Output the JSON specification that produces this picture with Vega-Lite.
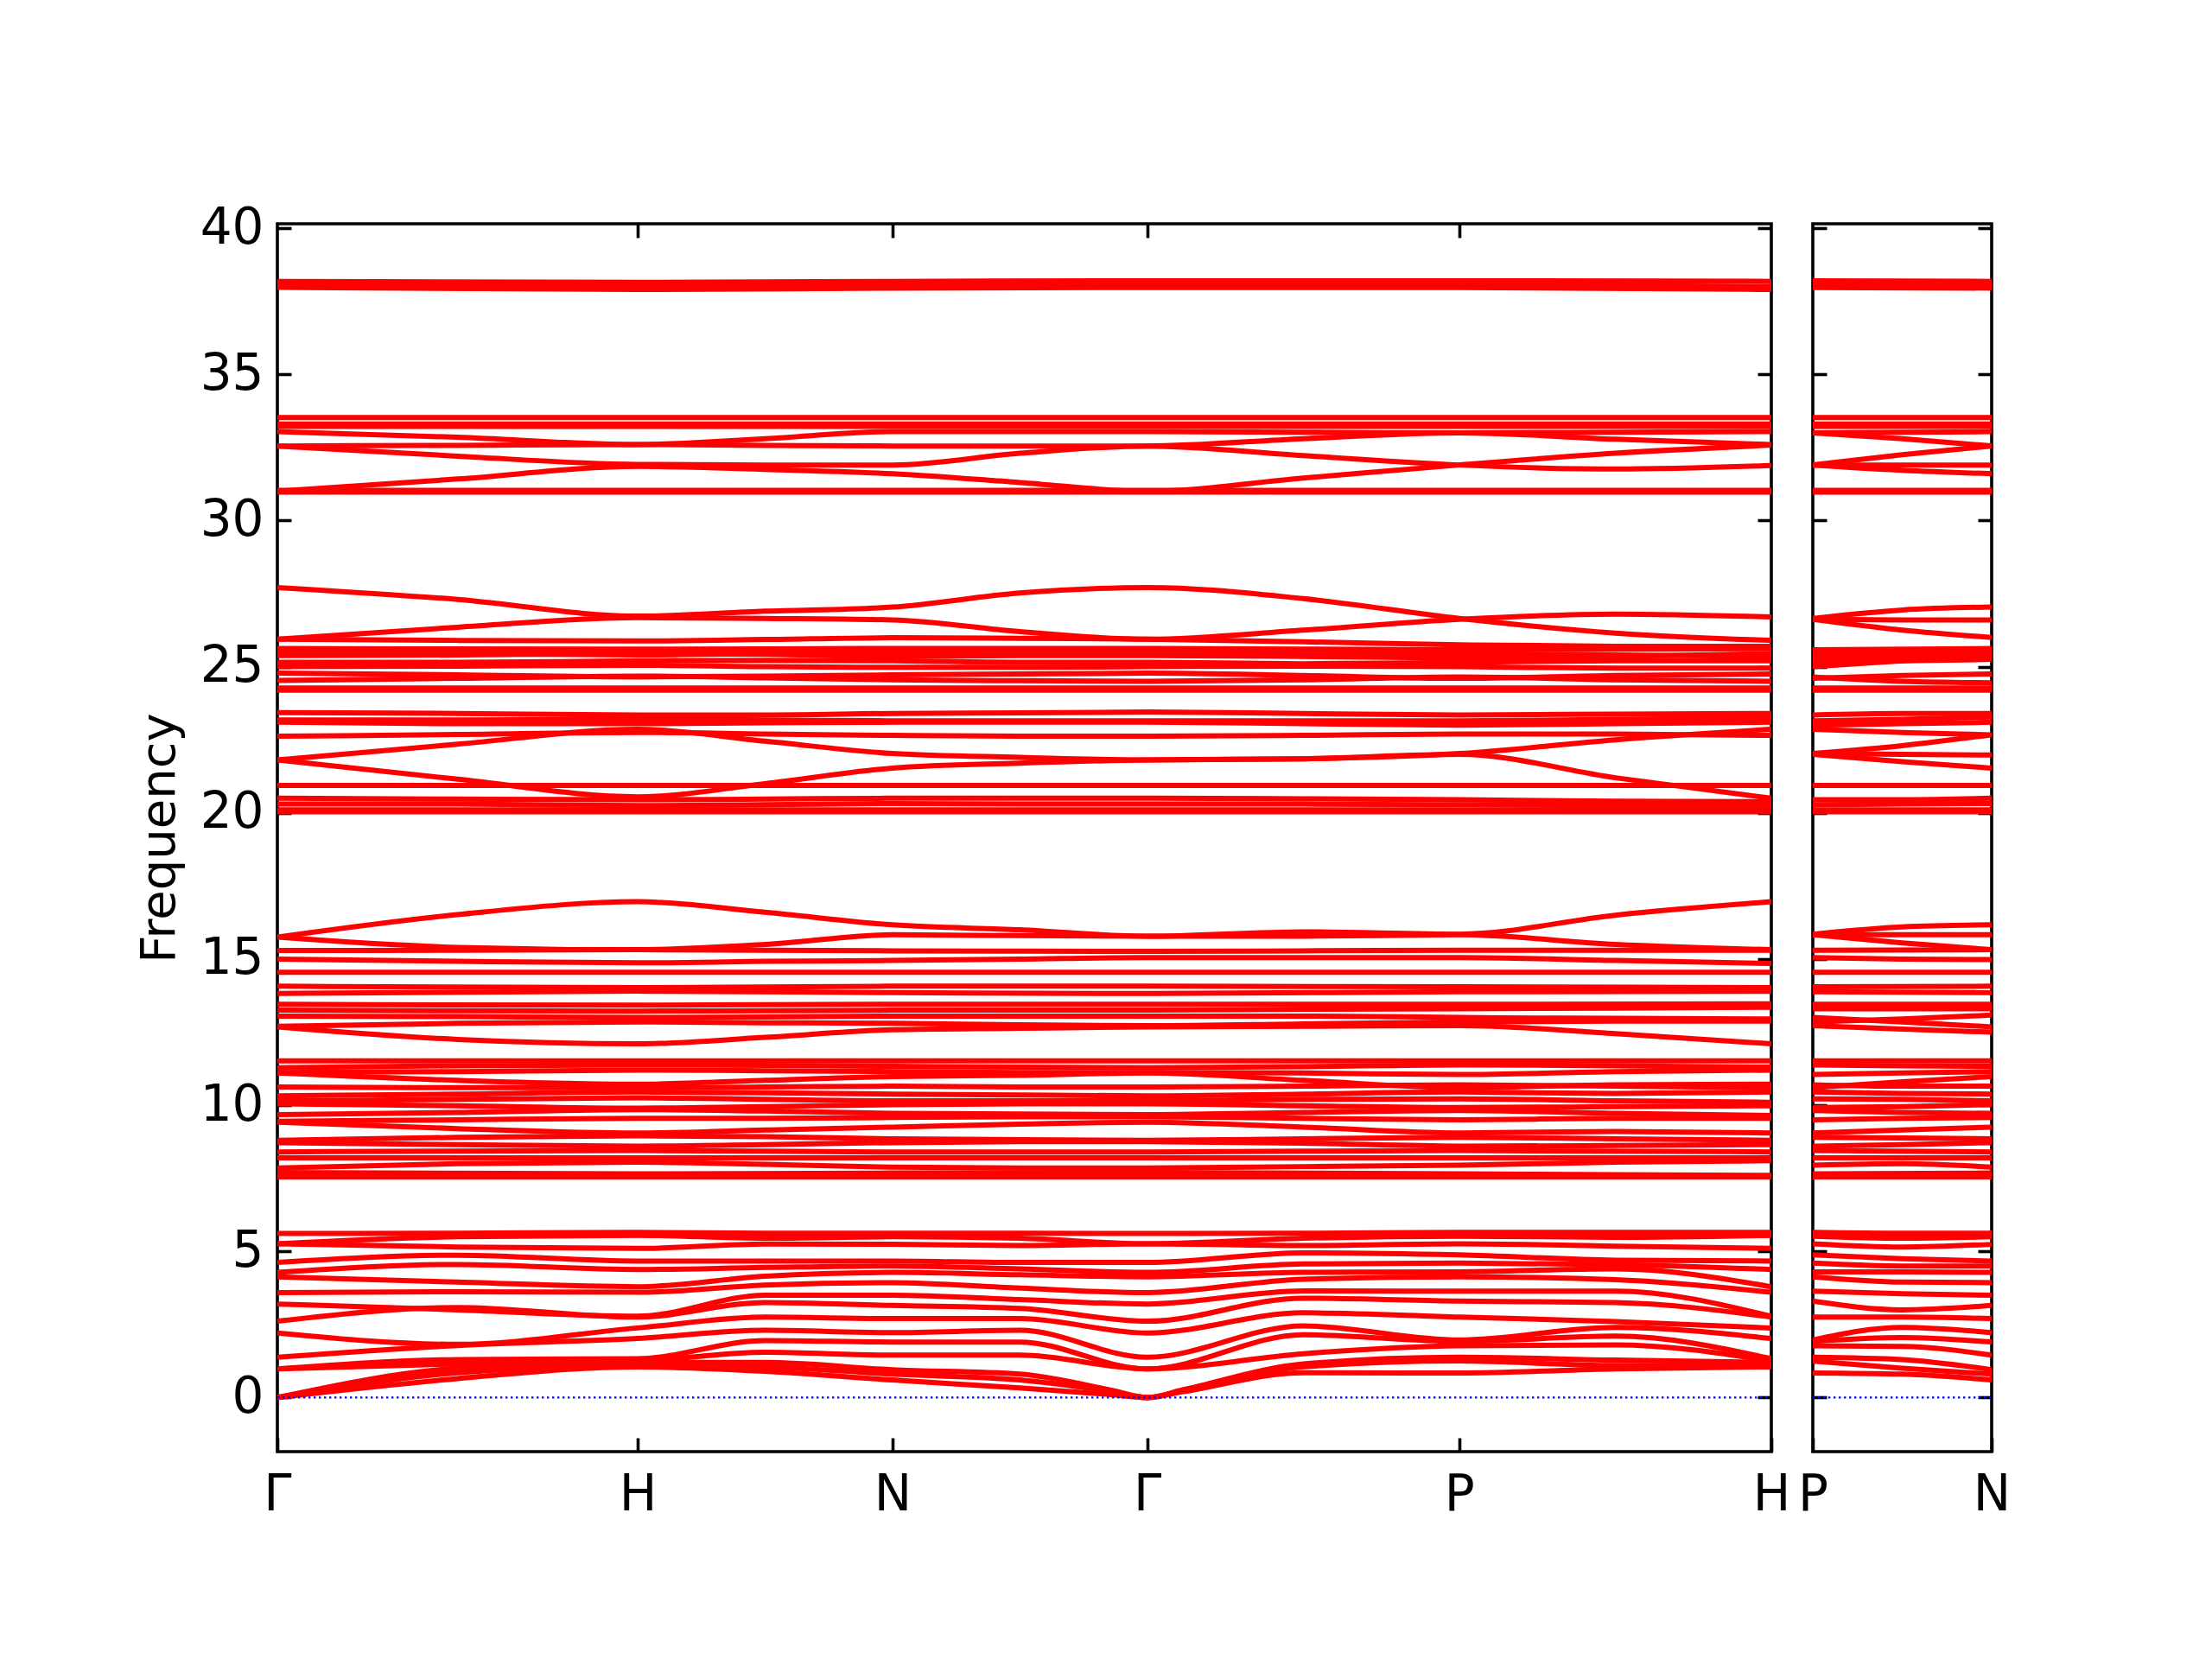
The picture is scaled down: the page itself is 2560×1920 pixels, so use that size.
{
"$schema": "https://vega.github.io/schema/vega-lite/v6.json",
"background": "white",
"padding": {"left": 154, "top": 233, "right": 10, "bottom": 10},
"config": {
 "view": {"stroke": "black", "strokeWidth": 3.6},
 "axis": {"grid": false, "domain": false, "labelFont": "DejaVu Sans", "labelFontSize": 58, "labelColor": "black", "tickColor": "black", "tickWidth": 3.6, "tickSize": -16, "labelPadding": 32, "titleFont": "DejaVu Sans", "titleFontSize": 56, "titleFontWeight": "normal", "titleColor": "black", "labelOverlap": false, "labelFlush": false}
},
"datasets": {
"zm": [{"x0": 0, "x1": 4.1463, "y": 0}],
"zs": [{"x0": 0, "x1": 0.5, "y": 0}],
"m": [
{"b":"a1","x":0,"f":38.18},{"b":"a1","x":1,"f":38.15},{"b":"a1","x":1.7071,"f":38.18},{"b":"a1","x":2.4142,"f":38.2},{"b":"a1","x":3.2802,"f":38.2},{"b":"a1","x":4.1463,"f":38.18},
{"b":"a2","x":0,"f":38.08},{"b":"a2","x":1,"f":38.0},{"b":"a2","x":1.7071,"f":38.05},{"b":"a2","x":2.4142,"f":38.07},{"b":"a2","x":3.2802,"f":38.08},{"b":"a2","x":4.1463,"f":38.0},
{"b":"a3","x":0,"f":37.98},{"b":"a3","x":1,"f":37.9},{"b":"a3","x":1.7071,"f":37.95},{"b":"a3","x":2.4142,"f":37.97},{"b":"a3","x":3.2802,"f":37.97},{"b":"a3","x":4.1463,"f":37.9},
{"b":"b1","x":0,"f":33.52},{"b":"b1","x":4.1463,"f":33.52},
{"b":"b2","x":0,"f":33.3},{"b":"b2","x":4.1463,"f":33.3},
{"b":"b3","x":0,"f":33.22},{"b":"b3","x":4.1463,"f":33.22},
{"b":"b4","x":0,"f":33.04},{"b":"b4","x":0.5,"f":32.85},{"b":"b4","x":1,"f":32.6},{"b":"b4","x":1.3536,"f":32.8},{"b":"b4","x":1.7071,"f":33.04},{"b":"b4","x":2.0607,"f":33.04},{"b":"b4","x":2.4142,"f":33.04},{"b":"b4","x":2.8472,"f":33.02},{"b":"b4","x":3.2802,"f":33.0},{"b":"b4","x":3.7133,"f":33.02},{"b":"b4","x":4.1463,"f":33.04},
{"b":"b5","x":0,"f":32.55},{"b":"b5","x":0.5,"f":32.57},{"b":"b5","x":1,"f":32.6},{"b":"b5","x":1.3536,"f":32.57},{"b":"b5","x":1.7071,"f":32.55},{"b":"b5","x":2.0607,"f":32.55},{"b":"b5","x":2.4142,"f":32.55},{"b":"b5","x":2.8472,"f":32.8},{"b":"b5","x":3.2802,"f":33.0},{"b":"b5","x":3.7133,"f":32.78},{"b":"b5","x":4.1463,"f":32.6},
{"b":"b6","x":0,"f":32.55},{"b":"b6","x":0.5,"f":32.2},{"b":"b6","x":1,"f":31.92},{"b":"b6","x":1.3536,"f":31.9},{"b":"b6","x":1.7071,"f":31.9},{"b":"b6","x":2.0607,"f":32.3},{"b":"b6","x":2.4142,"f":32.55},{"b":"b6","x":2.8472,"f":32.22},{"b":"b6","x":3.2802,"f":31.9},{"b":"b6","x":3.7133,"f":31.76},{"b":"b6","x":4.1463,"f":31.88},
{"b":"b7","x":0,"f":31.0},{"b":"b7","x":0.5,"f":31.42},{"b":"b7","x":1,"f":31.85},{"b":"b7","x":1.3536,"f":31.75},{"b":"b7","x":1.7071,"f":31.6},{"b":"b7","x":2.0607,"f":31.3},{"b":"b7","x":2.4142,"f":31.0},{"b":"b7","x":2.8472,"f":31.45},{"b":"b7","x":3.2802,"f":31.9},{"b":"b7","x":3.7133,"f":32.3},{"b":"b7","x":4.1463,"f":32.58},
{"b":"b8","x":0,"f":31.03},{"b":"b8","x":4.1463,"f":31.03},
{"b":"b9","x":0,"f":30.97},{"b":"b9","x":4.1463,"f":30.97},
{"b":"c1","x":0,"f":27.71},{"b":"c1","x":0.5,"f":27.3},{"b":"c1","x":1,"f":26.73},{"b":"c1","x":1.3536,"f":26.9},{"b":"c1","x":1.7071,"f":27.04},{"b":"c1","x":2.0607,"f":27.52},{"b":"c1","x":2.4142,"f":27.71},{"b":"c1","x":2.8472,"f":27.33},{"b":"c1","x":3.2802,"f":26.65},{"b":"c1","x":3.7133,"f":26.15},{"b":"c1","x":4.1463,"f":25.9},
{"b":"c2","x":0,"f":25.94},{"b":"c2","x":0.5,"f":26.35},{"b":"c2","x":1,"f":26.68},{"b":"c2","x":1.3536,"f":26.65},{"b":"c2","x":1.7071,"f":26.6},{"b":"c2","x":2.0607,"f":26.2},{"b":"c2","x":2.4142,"f":25.94},{"b":"c2","x":2.8472,"f":26.25},{"b":"c2","x":3.2802,"f":26.62},{"b":"c2","x":3.7133,"f":26.8},{"b":"c2","x":4.1463,"f":26.7},
{"b":"c3","x":0,"f":25.94},{"b":"c3","x":0.5,"f":25.9},{"b":"c3","x":1,"f":25.88},{"b":"c3","x":1.3536,"f":25.93},{"b":"c3","x":1.7071,"f":25.99},{"b":"c3","x":2.0607,"f":25.97},{"b":"c3","x":2.4142,"f":25.94},{"b":"c3","x":2.8472,"f":25.85},{"b":"c3","x":3.2802,"f":25.75},{"b":"c3","x":3.7133,"f":25.7},{"b":"c3","x":4.1463,"f":25.7},
{"b":"c4","x":0,"f":25.62},{"b":"c4","x":1,"f":25.6},{"b":"c4","x":1.7071,"f":25.62},{"b":"c4","x":2.4142,"f":25.62},{"b":"c4","x":3.2802,"f":25.58},{"b":"c4","x":4.1463,"f":25.62},
{"b":"c5","x":0,"f":25.5},{"b":"c5","x":0.5,"f":25.45},{"b":"c5","x":1,"f":25.4},{"b":"c5","x":1.3536,"f":25.45},{"b":"c5","x":1.7071,"f":25.5},{"b":"c5","x":2.0607,"f":25.5},{"b":"c5","x":2.4142,"f":25.5},{"b":"c5","x":2.8472,"f":25.48},{"b":"c5","x":3.2802,"f":25.45},{"b":"c5","x":3.7133,"f":25.4},{"b":"c5","x":4.1463,"f":25.35},
{"b":"c6","x":0,"f":25.38},{"b":"c6","x":0.5,"f":25.4},{"b":"c6","x":1,"f":25.45},{"b":"c6","x":1.3536,"f":25.42},{"b":"c6","x":1.7071,"f":25.35},{"b":"c6","x":2.0607,"f":25.38},{"b":"c6","x":2.4142,"f":25.38},{"b":"c6","x":2.8472,"f":25.35},{"b":"c6","x":3.2802,"f":25.3},{"b":"c6","x":3.7133,"f":25.35},{"b":"c6","x":4.1463,"f":25.45},
{"b":"c7","x":0,"f":25.15},{"b":"c7","x":0.5,"f":25.15},{"b":"c7","x":1,"f":25.2},{"b":"c7","x":1.3536,"f":25.22},{"b":"c7","x":1.7071,"f":25.2},{"b":"c7","x":2.0607,"f":25.15},{"b":"c7","x":2.4142,"f":25.15},{"b":"c7","x":2.8472,"f":25.1},{"b":"c7","x":3.2802,"f":25.15},{"b":"c7","x":3.7133,"f":25.2},{"b":"c7","x":4.1463,"f":25.2},
{"b":"c8","x":0,"f":25.0},{"b":"c8","x":0.5,"f":25.02},{"b":"c8","x":1,"f":25.05},{"b":"c8","x":1.3536,"f":25.0},{"b":"c8","x":1.7071,"f":24.98},{"b":"c8","x":2.0607,"f":24.98},{"b":"c8","x":2.4142,"f":25.0},{"b":"c8","x":2.8472,"f":25.02},{"b":"c8","x":3.2802,"f":25.0},{"b":"c8","x":3.7133,"f":24.95},{"b":"c8","x":4.1463,"f":24.95},
{"b":"c9","x":0,"f":24.78},{"b":"c9","x":0.5,"f":24.72},{"b":"c9","x":1,"f":24.65},{"b":"c9","x":1.3536,"f":24.68},{"b":"c9","x":1.7071,"f":24.72},{"b":"c9","x":2.0607,"f":24.75},{"b":"c9","x":2.4142,"f":24.78},{"b":"c9","x":2.8472,"f":24.7},{"b":"c9","x":3.2802,"f":24.6},{"b":"c9","x":3.7133,"f":24.7},{"b":"c9","x":4.1463,"f":24.75},
{"b":"c10","x":0,"f":24.53},{"b":"c10","x":0.5,"f":24.6},{"b":"c10","x":1,"f":24.68},{"b":"c10","x":1.3536,"f":24.62},{"b":"c10","x":1.7071,"f":24.55},{"b":"c10","x":2.0607,"f":24.52},{"b":"c10","x":2.4142,"f":24.5},{"b":"c10","x":2.8472,"f":24.55},{"b":"c10","x":3.2802,"f":24.65},{"b":"c10","x":3.7133,"f":24.55},{"b":"c10","x":4.1463,"f":24.5},
{"b":"c11","x":0,"f":24.27},{"b":"c11","x":4.1463,"f":24.27},
{"b":"c12","x":0,"f":24.2},{"b":"c12","x":4.1463,"f":24.2},
{"b":"c13","x":0,"f":23.43},{"b":"c13","x":0.5,"f":23.4},{"b":"c13","x":1,"f":23.35},{"b":"c13","x":1.3536,"f":23.35},{"b":"c13","x":1.7071,"f":23.4},{"b":"c13","x":2.0607,"f":23.42},{"b":"c13","x":2.4142,"f":23.45},{"b":"c13","x":2.8472,"f":23.4},{"b":"c13","x":3.2802,"f":23.35},{"b":"c13","x":3.7133,"f":23.38},{"b":"c13","x":4.1463,"f":23.4},
{"b":"c14","x":0,"f":23.18},{"b":"c14","x":0.5,"f":23.18},{"b":"c14","x":1,"f":23.2},{"b":"c14","x":1.3536,"f":23.18},{"b":"c14","x":1.7071,"f":23.15},{"b":"c14","x":2.0607,"f":23.15},{"b":"c14","x":2.4142,"f":23.15},{"b":"c14","x":2.8472,"f":23.15},{"b":"c14","x":3.2802,"f":23.15},{"b":"c14","x":3.7133,"f":23.2},{"b":"c14","x":4.1463,"f":23.25},
{"b":"c15","x":0,"f":23.1},{"b":"c15","x":0.5,"f":23.05},{"b":"c15","x":1,"f":23.05},{"b":"c15","x":1.3536,"f":23.08},{"b":"c15","x":1.7071,"f":23.1},{"b":"c15","x":2.0607,"f":23.1},{"b":"c15","x":2.4142,"f":23.1},{"b":"c15","x":2.8472,"f":23.05},{"b":"c15","x":3.2802,"f":23.0},{"b":"c15","x":3.7133,"f":23.05},{"b":"c15","x":4.1463,"f":23.1},
{"b":"c16","x":0,"f":22.62},{"b":"c16","x":0.5,"f":22.68},{"b":"c16","x":1,"f":22.75},{"b":"c16","x":1.3536,"f":22.7},{"b":"c16","x":1.7071,"f":22.65},{"b":"c16","x":2.0607,"f":22.62},{"b":"c16","x":2.4142,"f":22.62},{"b":"c16","x":2.8472,"f":22.65},{"b":"c16","x":3.2802,"f":22.7},{"b":"c16","x":3.7133,"f":22.7},{"b":"c16","x":4.1463,"f":22.65},
{"b":"c17","x":0,"f":21.81},{"b":"c17","x":0.5,"f":22.35},{"b":"c17","x":1,"f":22.86},{"b":"c17","x":1.3536,"f":22.45},{"b":"c17","x":1.7071,"f":22.03},{"b":"c17","x":2.0607,"f":21.9},{"b":"c17","x":2.4142,"f":21.81},{"b":"c17","x":2.8472,"f":21.85},{"b":"c17","x":3.2802,"f":22.03},{"b":"c17","x":3.7133,"f":22.5},{"b":"c17","x":4.1463,"f":22.86},
{"b":"c18","x":0,"f":21.81},{"b":"c18","x":0.5,"f":21.15},{"b":"c18","x":1,"f":20.55},{"b":"c18","x":1.3536,"f":21.0},{"b":"c18","x":1.7071,"f":21.53},{"b":"c18","x":2.0607,"f":21.7},{"b":"c18","x":2.4142,"f":21.81},{"b":"c18","x":2.8472,"f":21.85},{"b":"c18","x":3.2802,"f":22.0},{"b":"c18","x":3.7133,"f":21.2},{"b":"c18","x":4.1463,"f":20.5},
{"b":"c19","x":0,"f":20.94},{"b":"c19","x":4.1463,"f":20.94},
{"b":"c20","x":0,"f":20.5},{"b":"c20","x":0.5,"f":20.47},{"b":"c20","x":1,"f":20.45},{"b":"c20","x":1.3536,"f":20.47},{"b":"c20","x":1.7071,"f":20.5},{"b":"c20","x":2.0607,"f":20.5},{"b":"c20","x":2.4142,"f":20.5},{"b":"c20","x":2.8472,"f":20.48},{"b":"c20","x":3.2802,"f":20.45},{"b":"c20","x":3.7133,"f":20.4},{"b":"c20","x":4.1463,"f":20.38},
{"b":"c21","x":0,"f":20.3},{"b":"c21","x":0.5,"f":20.3},{"b":"c21","x":1,"f":20.25},{"b":"c21","x":1.3536,"f":20.28},{"b":"c21","x":1.7071,"f":20.32},{"b":"c21","x":2.0607,"f":20.3},{"b":"c21","x":2.4142,"f":20.3},{"b":"c21","x":2.8472,"f":20.3},{"b":"c21","x":3.2802,"f":20.28},{"b":"c21","x":3.7133,"f":20.25},{"b":"c21","x":4.1463,"f":20.25},
{"b":"c22","x":0,"f":20.1},{"b":"c22","x":4.1463,"f":20.1},
{"b":"c23","x":0,"f":20.04},{"b":"c23","x":4.1463,"f":20.04},
{"b":"d1","x":0,"f":15.75},{"b":"d1","x":0.5,"f":16.52},{"b":"d1","x":1,"f":16.96},{"b":"d1","x":1.3536,"f":16.6},{"b":"d1","x":1.7071,"f":16.17},{"b":"d1","x":2.0607,"f":16.0},{"b":"d1","x":2.4142,"f":15.78},{"b":"d1","x":2.8472,"f":15.93},{"b":"d1","x":3.2802,"f":15.85},{"b":"d1","x":3.7133,"f":16.5},{"b":"d1","x":4.1463,"f":16.96},
{"b":"d2","x":0,"f":15.75},{"b":"d2","x":0.5,"f":15.4},{"b":"d2","x":1,"f":15.32},{"b":"d2","x":1.3536,"f":15.5},{"b":"d2","x":1.7071,"f":15.83},{"b":"d2","x":2.0607,"f":15.8},{"b":"d2","x":2.4142,"f":15.78},{"b":"d2","x":2.8472,"f":15.78},{"b":"d2","x":3.2802,"f":15.83},{"b":"d2","x":3.7133,"f":15.5},{"b":"d2","x":4.1463,"f":15.32},
{"b":"d3","x":0,"f":15.29},{"b":"d3","x":0.5,"f":15.3},{"b":"d3","x":1,"f":15.32},{"b":"d3","x":1.3536,"f":15.3},{"b":"d3","x":1.7071,"f":15.28},{"b":"d3","x":2.0607,"f":15.27},{"b":"d3","x":2.4142,"f":15.26},{"b":"d3","x":2.8472,"f":15.28},{"b":"d3","x":3.2802,"f":15.3},{"b":"d3","x":3.7133,"f":15.3},{"b":"d3","x":4.1463,"f":15.3},
{"b":"d4","x":0,"f":15.0},{"b":"d4","x":0.5,"f":14.92},{"b":"d4","x":1,"f":14.87},{"b":"d4","x":1.3536,"f":14.92},{"b":"d4","x":1.7071,"f":14.95},{"b":"d4","x":2.0607,"f":15.0},{"b":"d4","x":2.4142,"f":15.05},{"b":"d4","x":2.8472,"f":15.05},{"b":"d4","x":3.2802,"f":15.05},{"b":"d4","x":3.7133,"f":14.95},{"b":"d4","x":4.1463,"f":14.85},
{"b":"d5","x":0,"f":14.55},{"b":"d5","x":4.1463,"f":14.55},
{"b":"d6","x":0,"f":14.07},{"b":"d6","x":1,"f":14.02},{"b":"d6","x":1.7071,"f":14.07},{"b":"d6","x":2.4142,"f":14.07},{"b":"d6","x":3.2802,"f":14.05},{"b":"d6","x":4.1463,"f":14.02},
{"b":"d7","x":0,"f":13.82},{"b":"d7","x":1,"f":13.9},{"b":"d7","x":1.7071,"f":13.85},{"b":"d7","x":2.4142,"f":13.82},{"b":"d7","x":3.2802,"f":13.88},{"b":"d7","x":4.1463,"f":13.9},
{"b":"d8","x":0,"f":13.45},{"b":"d8","x":1,"f":13.42},{"b":"d8","x":1.7071,"f":13.45},{"b":"d8","x":2.4142,"f":13.45},{"b":"d8","x":3.2802,"f":13.45},{"b":"d8","x":4.1463,"f":13.47},
{"b":"d9","x":0,"f":13.25},{"b":"d9","x":0.5,"f":13.23},{"b":"d9","x":1,"f":13.22},{"b":"d9","x":1.3536,"f":13.23},{"b":"d9","x":1.7071,"f":13.25},{"b":"d9","x":2.0607,"f":13.25},{"b":"d9","x":2.4142,"f":13.25},{"b":"d9","x":2.8472,"f":13.28},{"b":"d9","x":3.2802,"f":13.3},{"b":"d9","x":3.7133,"f":13.32},{"b":"d9","x":4.1463,"f":13.35},
{"b":"d10","x":0,"f":13.05},{"b":"d10","x":0.5,"f":13.03},{"b":"d10","x":1,"f":13.0},{"b":"d10","x":1.3536,"f":13.02},{"b":"d10","x":1.7071,"f":13.05},{"b":"d10","x":2.0607,"f":13.05},{"b":"d10","x":2.4142,"f":13.05},{"b":"d10","x":2.8472,"f":13.05},{"b":"d10","x":3.2802,"f":13.0},{"b":"d10","x":3.7133,"f":12.97},{"b":"d10","x":4.1463,"f":12.95},
{"b":"d11","x":0,"f":12.7},{"b":"d11","x":0.5,"f":12.8},{"b":"d11","x":1,"f":12.85},{"b":"d11","x":1.3536,"f":12.82},{"b":"d11","x":1.7071,"f":12.8},{"b":"d11","x":2.0607,"f":12.75},{"b":"d11","x":2.4142,"f":12.72},{"b":"d11","x":2.8472,"f":12.78},{"b":"d11","x":3.2802,"f":12.85},{"b":"d11","x":3.7133,"f":12.88},{"b":"d11","x":4.1463,"f":12.88},
{"b":"d12","x":0,"f":12.68},{"b":"d12","x":0.5,"f":12.25},{"b":"d12","x":1,"f":12.1},{"b":"d12","x":1.3536,"f":12.32},{"b":"d12","x":1.7071,"f":12.58},{"b":"d12","x":2.0607,"f":12.63},{"b":"d12","x":2.4142,"f":12.68},{"b":"d12","x":2.8472,"f":12.7},{"b":"d12","x":3.2802,"f":12.72},{"b":"d12","x":3.7133,"f":12.45},{"b":"d12","x":4.1463,"f":12.1},
{"b":"e1","x":0,"f":11.52},{"b":"e1","x":4.1463,"f":11.52},
{"b":"e2","x":0,"f":11.28},{"b":"e2","x":0.5,"f":11.35},{"b":"e2","x":1,"f":11.38},{"b":"e2","x":1.3536,"f":11.36},{"b":"e2","x":1.7071,"f":11.33},{"b":"e2","x":2.0607,"f":11.3},{"b":"e2","x":2.4142,"f":11.28},{"b":"e2","x":2.8472,"f":11.32},{"b":"e2","x":3.2802,"f":11.38},{"b":"e2","x":3.7133,"f":11.35},{"b":"e2","x":4.1463,"f":11.3},
{"b":"e3","x":0,"f":11.12},{"b":"e3","x":0.5,"f":11.15},{"b":"e3","x":1,"f":11.2},{"b":"e3","x":1.3536,"f":11.18},{"b":"e3","x":1.7071,"f":11.15},{"b":"e3","x":2.0607,"f":11.12},{"b":"e3","x":2.4142,"f":11.12},{"b":"e3","x":2.8472,"f":11.1},{"b":"e3","x":3.2802,"f":11.05},{"b":"e3","x":3.7133,"f":11.15},{"b":"e3","x":4.1463,"f":11.2},
{"b":"e4","x":0,"f":11.1},{"b":"e4","x":0.5,"f":10.85},{"b":"e4","x":1,"f":10.72},{"b":"e4","x":1.3536,"f":10.85},{"b":"e4","x":1.7071,"f":10.98},{"b":"e4","x":2.0607,"f":11.02},{"b":"e4","x":2.4142,"f":11.1},{"b":"e4","x":2.8472,"f":10.85},{"b":"e4","x":3.2802,"f":10.6},{"b":"e4","x":3.7133,"f":10.7},{"b":"e4","x":4.1463,"f":10.72},
{"b":"e5","x":0,"f":10.62},{"b":"e5","x":0.5,"f":10.6},{"b":"e5","x":1,"f":10.6},{"b":"e5","x":1.3536,"f":10.62},{"b":"e5","x":1.7071,"f":10.65},{"b":"e5","x":2.0607,"f":10.62},{"b":"e5","x":2.4142,"f":10.62},{"b":"e5","x":2.8472,"f":10.65},{"b":"e5","x":3.2802,"f":10.7},{"b":"e5","x":3.7133,"f":10.65},{"b":"e5","x":4.1463,"f":10.6},
{"b":"e6","x":0,"f":10.32},{"b":"e6","x":0.5,"f":10.38},{"b":"e6","x":1,"f":10.45},{"b":"e6","x":1.3536,"f":10.42},{"b":"e6","x":1.7071,"f":10.38},{"b":"e6","x":2.0607,"f":10.35},{"b":"e6","x":2.4142,"f":10.32},{"b":"e6","x":2.8472,"f":10.38},{"b":"e6","x":3.2802,"f":10.45},{"b":"e6","x":3.7133,"f":10.4},{"b":"e6","x":4.1463,"f":10.45},
{"b":"e7","x":0,"f":10.15},{"b":"e7","x":0.5,"f":10.2},{"b":"e7","x":1,"f":10.25},{"b":"e7","x":1.3536,"f":10.2},{"b":"e7","x":1.7071,"f":10.15},{"b":"e7","x":2.0607,"f":10.15},{"b":"e7","x":2.4142,"f":10.15},{"b":"e7","x":2.8472,"f":10.2},{"b":"e7","x":3.2802,"f":10.22},{"b":"e7","x":3.7133,"f":10.15},{"b":"e7","x":4.1463,"f":10.1},
{"b":"e8","x":0,"f":10.05},{"b":"e8","x":0.5,"f":9.98},{"b":"e8","x":1,"f":9.9},{"b":"e8","x":1.3536,"f":9.95},{"b":"e8","x":1.7071,"f":10.02},{"b":"e8","x":2.0607,"f":10.05},{"b":"e8","x":2.4142,"f":10.05},{"b":"e8","x":2.8472,"f":9.98},{"b":"e8","x":3.2802,"f":9.92},{"b":"e8","x":3.7133,"f":9.95},{"b":"e8","x":4.1463,"f":9.98},
{"b":"e9","x":0,"f":9.68},{"b":"e9","x":0.5,"f":9.75},{"b":"e9","x":1,"f":9.85},{"b":"e9","x":1.3536,"f":9.8},{"b":"e9","x":1.7071,"f":9.72},{"b":"e9","x":2.0607,"f":9.7},{"b":"e9","x":2.4142,"f":9.68},{"b":"e9","x":2.8472,"f":9.75},{"b":"e9","x":3.2802,"f":9.82},{"b":"e9","x":3.7133,"f":9.72},{"b":"e9","x":4.1463,"f":9.65},
{"b":"e10","x":0,"f":9.45},{"b":"e10","x":0.5,"f":9.5},{"b":"e10","x":1,"f":9.55},{"b":"e10","x":1.3536,"f":9.55},{"b":"e10","x":1.7071,"f":9.58},{"b":"e10","x":2.0607,"f":9.6},{"b":"e10","x":2.4142,"f":9.6},{"b":"e10","x":2.8472,"f":9.55},{"b":"e10","x":3.2802,"f":9.5},{"b":"e10","x":3.7133,"f":9.55},{"b":"e10","x":4.1463,"f":9.55},
{"b":"e11","x":0,"f":9.42},{"b":"e11","x":0.5,"f":9.2},{"b":"e11","x":1,"f":9.05},{"b":"e11","x":1.3536,"f":9.15},{"b":"e11","x":1.7071,"f":9.25},{"b":"e11","x":2.0607,"f":9.35},{"b":"e11","x":2.4142,"f":9.42},{"b":"e11","x":2.8472,"f":9.25},{"b":"e11","x":3.2802,"f":9.05},{"b":"e11","x":3.7133,"f":9.1},{"b":"e11","x":4.1463,"f":9.05},
{"b":"e12","x":0,"f":8.8},{"b":"e12","x":0.5,"f":8.9},{"b":"e12","x":1,"f":8.95},{"b":"e12","x":1.3536,"f":8.92},{"b":"e12","x":1.7071,"f":8.85},{"b":"e12","x":2.0607,"f":8.82},{"b":"e12","x":2.4142,"f":8.8},{"b":"e12","x":2.8472,"f":8.85},{"b":"e12","x":3.2802,"f":8.9},{"b":"e12","x":3.7133,"f":8.85},{"b":"e12","x":4.1463,"f":8.8},
{"b":"e13","x":0,"f":8.72},{"b":"e13","x":0.5,"f":8.65},{"b":"e13","x":1,"f":8.6},{"b":"e13","x":1.3536,"f":8.65},{"b":"e13","x":1.7071,"f":8.72},{"b":"e13","x":2.0607,"f":8.75},{"b":"e13","x":2.4142,"f":8.75},{"b":"e13","x":2.8472,"f":8.7},{"b":"e13","x":3.2802,"f":8.6},{"b":"e13","x":3.7133,"f":8.62},{"b":"e13","x":4.1463,"f":8.65},
{"b":"e14","x":0,"f":8.4},{"b":"e14","x":1,"f":8.45},{"b":"e14","x":1.7071,"f":8.4},{"b":"e14","x":2.4142,"f":8.4},{"b":"e14","x":3.2802,"f":8.45},{"b":"e14","x":4.1463,"f":8.4},
{"b":"e15","x":0,"f":8.2},{"b":"e15","x":4.1463,"f":8.2},
{"b":"e16","x":0,"f":7.85},{"b":"e16","x":0.5,"f":8.0},{"b":"e16","x":1,"f":8.05},{"b":"e16","x":1.3536,"f":7.98},{"b":"e16","x":1.7071,"f":7.88},{"b":"e16","x":2.0607,"f":7.85},{"b":"e16","x":2.4142,"f":7.85},{"b":"e16","x":2.8472,"f":7.9},{"b":"e16","x":3.2802,"f":7.95},{"b":"e16","x":3.7133,"f":8.05},{"b":"e16","x":4.1463,"f":8.1},
{"b":"e17","x":0,"f":7.7},{"b":"e17","x":1,"f":7.65},{"b":"e17","x":1.7071,"f":7.68},{"b":"e17","x":2.4142,"f":7.7},{"b":"e17","x":3.2802,"f":7.65},{"b":"e17","x":4.1463,"f":7.6},
{"b":"e18","x":0,"f":7.55},{"b":"e18","x":4.1463,"f":7.55},
{"b":"f1","x":0,"f":5.61},{"b":"f1","x":0.5,"f":5.62},{"b":"f1","x":1,"f":5.65},{"b":"f1","x":1.3536,"f":5.62},{"b":"f1","x":1.7071,"f":5.62},{"b":"f1","x":2.0607,"f":5.62},{"b":"f1","x":2.4142,"f":5.61},{"b":"f1","x":2.8472,"f":5.62},{"b":"f1","x":3.2802,"f":5.65},{"b":"f1","x":3.7133,"f":5.65},{"b":"f1","x":4.1463,"f":5.65},
{"b":"f2","x":0,"f":5.26},{"b":"f2","x":0.5,"f":5.5},{"b":"f2","x":1,"f":5.55},{"b":"f2","x":1.3536,"f":5.45},{"b":"f2","x":1.7071,"f":5.5},{"b":"f2","x":2.0607,"f":5.45},{"b":"f2","x":2.4142,"f":5.26},{"b":"f2","x":2.8472,"f":5.45},{"b":"f2","x":3.2802,"f":5.52},{"b":"f2","x":3.7133,"f":5.48},{"b":"f2","x":4.1463,"f":5.55},
{"b":"f3","x":0,"f":5.26},{"b":"f3","x":0.5,"f":5.15},{"b":"f3","x":1,"f":5.1},{"b":"f3","x":1.3536,"f":5.25},{"b":"f3","x":1.7071,"f":5.24},{"b":"f3","x":2.0607,"f":5.2},{"b":"f3","x":2.4142,"f":5.26},{"b":"f3","x":2.8472,"f":5.2},{"b":"f3","x":3.2802,"f":5.26},{"b":"f3","x":3.7133,"f":5.18},{"b":"f3","x":4.1463,"f":5.1},
{"b":"f4","x":0,"f":4.62},{"b":"f4","x":0.5,"f":4.87},{"b":"f4","x":1,"f":4.67},{"b":"f4","x":1.3536,"f":4.67},{"b":"f4","x":1.7071,"f":4.67},{"b":"f4","x":2.0607,"f":4.62},{"b":"f4","x":2.4142,"f":4.62},{"b":"f4","x":2.8472,"f":4.95},{"b":"f4","x":3.2802,"f":4.88},{"b":"f4","x":3.7133,"f":4.7},{"b":"f4","x":4.1463,"f":4.67},
{"b":"f5","x":0,"f":4.28},{"b":"f5","x":0.5,"f":4.55},{"b":"f5","x":1,"f":4.38},{"b":"f5","x":1.3536,"f":4.45},{"b":"f5","x":1.7071,"f":4.5},{"b":"f5","x":2.0607,"f":4.4},{"b":"f5","x":2.4142,"f":4.28},{"b":"f5","x":2.8472,"f":4.57},{"b":"f5","x":3.2802,"f":4.6},{"b":"f5","x":3.7133,"f":4.55},{"b":"f5","x":4.1463,"f":4.38},
{"b":"f6","x":0,"f":4.13},{"b":"f6","x":0.5,"f":3.95},{"b":"f6","x":1,"f":3.79},{"b":"f6","x":1.3536,"f":4.15},{"b":"f6","x":1.7071,"f":4.28},{"b":"f6","x":2.0607,"f":4.2},{"b":"f6","x":2.4142,"f":4.13},{"b":"f6","x":2.8472,"f":4.28},{"b":"f6","x":3.2802,"f":4.3},{"b":"f6","x":3.7133,"f":4.4},{"b":"f6","x":4.1463,"f":3.79},
{"b":"f7","x":0,"f":3.59},{"b":"f7","x":0.5,"f":3.62},{"b":"f7","x":1,"f":3.6},{"b":"f7","x":1.3536,"f":3.85},{"b":"f7","x":1.7071,"f":3.93},{"b":"f7","x":2.0607,"f":3.74},{"b":"f7","x":2.4142,"f":3.59},{"b":"f7","x":2.8472,"f":4.05},{"b":"f7","x":3.2802,"f":4.13},{"b":"f7","x":3.7133,"f":4.03},{"b":"f7","x":4.1463,"f":3.6},
{"b":"f8","x":0,"f":3.2},{"b":"f8","x":0.5,"f":3.0},{"b":"f8","x":1,"f":2.78},{"b":"f8","x":1.3536,"f":3.5},{"b":"f8","x":1.7071,"f":3.5},{"b":"f8","x":2.0607,"f":3.35},{"b":"f8","x":2.4142,"f":3.2},{"b":"f8","x":2.8472,"f":3.65},{"b":"f8","x":3.2802,"f":3.64},{"b":"f8","x":3.7133,"f":3.64},{"b":"f8","x":4.1463,"f":2.78},
{"b":"f9","x":0,"f":2.61},{"b":"f9","x":0.5,"f":3.08},{"b":"f9","x":1,"f":2.75},{"b":"f9","x":1.3536,"f":3.25},{"b":"f9","x":1.7071,"f":3.15},{"b":"f9","x":2.0607,"f":3.05},{"b":"f9","x":2.4142,"f":2.61},{"b":"f9","x":2.8472,"f":3.4},{"b":"f9","x":3.2802,"f":3.3},{"b":"f9","x":3.7133,"f":3.25},{"b":"f9","x":4.1463,"f":2.75},
{"b":"f10","x":0,"f":2.21},{"b":"f10","x":0.5,"f":1.82},{"b":"f10","x":1,"f":2.38},{"b":"f10","x":1.3536,"f":2.75},{"b":"f10","x":1.7071,"f":2.7},{"b":"f10","x":2.0607,"f":2.7},{"b":"f10","x":2.4142,"f":2.21},{"b":"f10","x":2.8472,"f":2.9},{"b":"f10","x":3.2802,"f":2.75},{"b":"f10","x":3.7133,"f":2.6},{"b":"f10","x":4.1463,"f":2.38},
{"b":"f11","x":0,"f":1.38},{"b":"f11","x":0.5,"f":1.78},{"b":"f11","x":1,"f":2.02},{"b":"f11","x":1.3536,"f":2.3},{"b":"f11","x":1.7071,"f":2.22},{"b":"f11","x":2.0607,"f":2.3},{"b":"f11","x":2.4142,"f":1.38},{"b":"f11","x":2.8472,"f":2.45},{"b":"f11","x":3.2802,"f":1.97},{"b":"f11","x":3.7133,"f":2.4},{"b":"f11","x":4.1463,"f":2.02},
{"b":"f12","x":0,"f":0.98},{"b":"f12","x":0.5,"f":1.3},{"b":"f12","x":1,"f":1.33},{"b":"f12","x":1.3536,"f":1.95},{"b":"f12","x":1.7071,"f":1.9},{"b":"f12","x":2.0607,"f":1.9},{"b":"f12","x":2.4142,"f":0.98},{"b":"f12","x":2.8472,"f":2.15},{"b":"f12","x":3.2802,"f":1.92},{"b":"f12","x":3.7133,"f":2.1},{"b":"f12","x":4.1463,"f":1.33},
{"b":"f13","x":0,"f":0.98},{"b":"f13","x":0.5,"f":1.15},{"b":"f13","x":1,"f":1.25},{"b":"f13","x":1.3536,"f":1.55},{"b":"f13","x":1.7071,"f":1.45},{"b":"f13","x":2.0607,"f":1.45},{"b":"f13","x":2.4142,"f":0.98},{"b":"f13","x":2.8472,"f":1.5},{"b":"f13","x":3.2802,"f":1.77},{"b":"f13","x":3.7133,"f":1.8},{"b":"f13","x":4.1463,"f":1.25},
{"b":"f14","x":0,"f":0},{"b":"f14","x":0.5,"f":1.0},{"b":"f14","x":1,"f":1.2},{"b":"f14","x":1.3536,"f":1.2},{"b":"f14","x":1.7071,"f":0.95},{"b":"f14","x":2.0607,"f":0.8},{"b":"f14","x":2.3142,"f":0.25},{"b":"f14","x":2.4142,"f":0},{"b":"f14","x":2.5142,"f":0.27},{"b":"f14","x":2.8472,"f":1.15},{"b":"f14","x":3.2802,"f":1.38},{"b":"f14","x":3.7133,"f":1.28},{"b":"f14","x":4.1463,"f":1.2},
{"b":"f15","x":0,"f":0},{"b":"f15","x":0.5,"f":0.85},{"b":"f15","x":1,"f":1.1},{"b":"f15","x":1.3536,"f":1.05},{"b":"f15","x":1.7071,"f":0.8},{"b":"f15","x":2.0607,"f":0.6},{"b":"f15","x":2.3142,"f":0.2},{"b":"f15","x":2.4142,"f":0},{"b":"f15","x":2.5142,"f":0.24},{"b":"f15","x":2.8472,"f":1.05},{"b":"f15","x":3.2802,"f":1.25},{"b":"f15","x":3.7133,"f":1.1},{"b":"f15","x":4.1463,"f":1.1},
{"b":"f16","x":0,"f":0},{"b":"f16","x":0.5,"f":0.65},{"b":"f16","x":1,"f":1.05},{"b":"f16","x":1.3536,"f":0.9},{"b":"f16","x":1.7071,"f":0.6},{"b":"f16","x":2.0607,"f":0.33},{"b":"f16","x":2.3142,"f":0.1},{"b":"f16","x":2.4142,"f":0},{"b":"f16","x":2.5142,"f":0.2},{"b":"f16","x":2.8472,"f":0.85},{"b":"f16","x":3.2802,"f":0.84},{"b":"f16","x":3.7133,"f":0.98},{"b":"f16","x":4.1463,"f":1.05}
],
"s": [
{"b":"a1","x":0,"f":38.2},{"b":"a1","x":0.5,"f":38.18},
{"b":"a2","x":0,"f":38.08},{"b":"a2","x":0.5,"f":38.05},
{"b":"a3","x":0,"f":37.97},{"b":"a3","x":0.5,"f":37.95},
{"b":"b1","x":0,"f":33.52},{"b":"b1","x":0.5,"f":33.52},
{"b":"b2","x":0,"f":33.3},{"b":"b2","x":0.5,"f":33.3},
{"b":"b3","x":0,"f":33.22},{"b":"b3","x":0.5,"f":33.22},
{"b":"b4","x":0,"f":33.0},{"b":"b4","x":0.25,"f":33.02},{"b":"b4","x":0.5,"f":33.04},
{"b":"b5","x":0,"f":33.0},{"b":"b5","x":0.25,"f":32.8},{"b":"b5","x":0.5,"f":32.55},
{"b":"b6","x":0,"f":31.9},{"b":"b6","x":0.5,"f":31.9},
{"b":"b7","x":0,"f":31.9},{"b":"b7","x":0.25,"f":32.25},{"b":"b7","x":0.5,"f":32.55},
{"b":"bS","x":0,"f":31.9},{"b":"bS","x":0.25,"f":31.72},{"b":"bS","x":0.5,"f":31.6},
{"b":"b8","x":0,"f":31.03},{"b":"b8","x":0.5,"f":31.03},
{"b":"b9","x":0,"f":30.97},{"b":"b9","x":0.5,"f":30.97},
{"b":"c1","x":0,"f":26.65},{"b":"c1","x":0.25,"f":26.94},{"b":"c1","x":0.5,"f":27.04},
{"b":"c2","x":0,"f":26.62},{"b":"c2","x":0.25,"f":26.6},{"b":"c2","x":0.5,"f":26.6},
{"b":"c3","x":0,"f":26.62},{"b":"c3","x":0.25,"f":26.25},{"b":"c3","x":0.5,"f":26.0},
{"b":"c4","x":0,"f":25.58},{"b":"c4","x":0.5,"f":25.62},
{"b":"c5","x":0,"f":25.45},{"b":"c5","x":0.25,"f":25.5},{"b":"c5","x":0.5,"f":25.5},
{"b":"c6","x":0,"f":25.3},{"b":"c6","x":0.25,"f":25.35},{"b":"c6","x":0.5,"f":25.4},
{"b":"c7","x":0,"f":25.15},{"b":"c7","x":0.25,"f":25.2},{"b":"c7","x":0.5,"f":25.25},
{"b":"c8","x":0,"f":25.0},{"b":"c8","x":0.25,"f":25.2},{"b":"c8","x":0.5,"f":25.38},
{"b":"c9","x":0,"f":24.6},{"b":"c9","x":0.25,"f":24.7},{"b":"c9","x":0.5,"f":24.75},
{"b":"c10","x":0,"f":24.65},{"b":"c10","x":0.25,"f":24.5},{"b":"c10","x":0.5,"f":24.45},
{"b":"c11","x":0,"f":24.27},{"b":"c11","x":0.5,"f":24.27},
{"b":"c12","x":0,"f":24.2},{"b":"c12","x":0.5,"f":24.2},
{"b":"c13","x":0,"f":23.35},{"b":"c13","x":0.25,"f":23.4},{"b":"c13","x":0.5,"f":23.4},
{"b":"c14","x":0,"f":23.15},{"b":"c14","x":0.25,"f":23.2},{"b":"c14","x":0.5,"f":23.28},
{"b":"c15","x":0,"f":23.0},{"b":"c15","x":0.25,"f":23.05},{"b":"c15","x":0.5,"f":23.1},
{"b":"c16","x":0,"f":22.86},{"b":"c16","x":0.25,"f":22.75},{"b":"c16","x":0.5,"f":22.67},
{"b":"c17","x":0,"f":22.03},{"b":"c17","x":0.25,"f":22.3},{"b":"c17","x":0.5,"f":22.67},
{"b":"c18","x":0,"f":22.0},{"b":"c18","x":0.25,"f":21.75},{"b":"c18","x":0.5,"f":21.53},
{"b":"cS","x":0,"f":22.03},{"b":"cS","x":0.25,"f":22.0},{"b":"cS","x":0.5,"f":21.98},
{"b":"c19","x":0,"f":20.94},{"b":"c19","x":0.5,"f":20.94},
{"b":"c20","x":0,"f":20.45},{"b":"c20","x":0.25,"f":20.45},{"b":"c20","x":0.5,"f":20.5},
{"b":"c21","x":0,"f":20.28},{"b":"c21","x":0.25,"f":20.3},{"b":"c21","x":0.5,"f":20.32},
{"b":"c22","x":0,"f":20.1},{"b":"c22","x":0.5,"f":20.1},
{"b":"c23","x":0,"f":20.04},{"b":"c23","x":0.5,"f":20.04},
{"b":"d1","x":0,"f":15.85},{"b":"d1","x":0.25,"f":16.1},{"b":"d1","x":0.5,"f":16.17},
{"b":"d2","x":0,"f":15.83},{"b":"d2","x":0.5,"f":15.83},
{"b":"d3","x":0,"f":15.3},{"b":"d3","x":0.5,"f":15.32},
{"b":"dS","x":0,"f":15.83},{"b":"dS","x":0.25,"f":15.55},{"b":"dS","x":0.5,"f":15.32},
{"b":"d4","x":0,"f":15.05},{"b":"d4","x":0.25,"f":15.0},{"b":"d4","x":0.5,"f":14.98},
{"b":"d5","x":0,"f":14.55},{"b":"d5","x":0.5,"f":14.55},
{"b":"d6","x":0,"f":14.05},{"b":"d6","x":0.5,"f":14.07},
{"b":"d7","x":0,"f":13.88},{"b":"d7","x":0.5,"f":13.85},
{"b":"d8","x":0,"f":13.45},{"b":"d8","x":0.5,"f":13.45},
{"b":"d9","x":0,"f":13.3},{"b":"d9","x":0.5,"f":13.3},
{"b":"d10","x":0,"f":13.0},{"b":"d10","x":0.25,"f":12.85},{"b":"d10","x":0.5,"f":12.68},
{"b":"d11","x":0,"f":12.85},{"b":"d11","x":0.25,"f":12.95},{"b":"d11","x":0.5,"f":13.08},
{"b":"d12","x":0,"f":12.72},{"b":"d12","x":0.25,"f":12.6},{"b":"d12","x":0.5,"f":12.5},
{"b":"e1","x":0,"f":11.52},{"b":"e1","x":0.5,"f":11.52},
{"b":"e2","x":0,"f":11.38},{"b":"e2","x":0.25,"f":11.35},{"b":"e2","x":0.5,"f":11.33},
{"b":"e3","x":0,"f":11.05},{"b":"e3","x":0.25,"f":11.1},{"b":"e3","x":0.5,"f":11.15},
{"b":"e4","x":0,"f":10.6},{"b":"e4","x":0.25,"f":10.8},{"b":"e4","x":0.5,"f":10.98},
{"b":"e5","x":0,"f":10.7},{"b":"e5","x":0.25,"f":10.65},{"b":"e5","x":0.5,"f":10.65},
{"b":"e6","x":0,"f":10.45},{"b":"e6","x":0.25,"f":10.4},{"b":"e6","x":0.5,"f":10.38},
{"b":"e7","x":0,"f":10.22},{"b":"e7","x":0.25,"f":10.2},{"b":"e7","x":0.5,"f":10.15},
{"b":"e8","x":0,"f":9.92},{"b":"e8","x":0.25,"f":9.95},{"b":"e8","x":0.5,"f":10.02},
{"b":"e9","x":0,"f":9.82},{"b":"e9","x":0.25,"f":9.75},{"b":"e9","x":0.5,"f":9.72},
{"b":"e10","x":0,"f":9.5},{"b":"e10","x":0.25,"f":9.55},{"b":"e10","x":0.5,"f":9.58},
{"b":"e11","x":0,"f":9.05},{"b":"e11","x":0.25,"f":9.15},{"b":"e11","x":0.5,"f":9.25},
{"b":"e12","x":0,"f":8.9},{"b":"e12","x":0.25,"f":8.88},{"b":"e12","x":0.5,"f":8.85},
{"b":"e13","x":0,"f":8.6},{"b":"e13","x":0.25,"f":8.65},{"b":"e13","x":0.5,"f":8.72},
{"b":"e14","x":0,"f":8.45},{"b":"e14","x":0.5,"f":8.4},
{"b":"e15","x":0,"f":8.2},{"b":"e15","x":0.5,"f":8.2},
{"b":"e16","x":0,"f":7.95},{"b":"e16","x":0.25,"f":8.0},{"b":"e16","x":0.5,"f":7.88},
{"b":"e17","x":0,"f":7.65},{"b":"e17","x":0.5,"f":7.68},
{"b":"e18","x":0,"f":7.55},{"b":"e18","x":0.5,"f":7.55},
{"b":"f1","x":0,"f":5.65},{"b":"f1","x":0.25,"f":5.62},{"b":"f1","x":0.5,"f":5.62},
{"b":"f2","x":0,"f":5.52},{"b":"f2","x":0.25,"f":5.45},{"b":"f2","x":0.5,"f":5.5},
{"b":"f3","x":0,"f":5.26},{"b":"f3","x":0.25,"f":5.15},{"b":"f3","x":0.5,"f":5.24},
{"b":"f4","x":0,"f":4.88},{"b":"f4","x":0.25,"f":4.75},{"b":"f4","x":0.5,"f":4.67},
{"b":"f5","x":0,"f":4.6},{"b":"f5","x":0.25,"f":4.5},{"b":"f5","x":0.5,"f":4.5},
{"b":"f6","x":0,"f":4.3},{"b":"f6","x":0.25,"f":4.3},{"b":"f6","x":0.5,"f":4.28},
{"b":"f7","x":0,"f":4.13},{"b":"f7","x":0.25,"f":3.95},{"b":"f7","x":0.5,"f":3.93},
{"b":"f8","x":0,"f":3.64},{"b":"f8","x":0.25,"f":3.55},{"b":"f8","x":0.5,"f":3.5},
{"b":"f9","x":0,"f":3.3},{"b":"f9","x":0.25,"f":3.0},{"b":"f9","x":0.5,"f":3.15},
{"b":"f10","x":0,"f":2.75},{"b":"f10","x":0.25,"f":2.75},{"b":"f10","x":0.5,"f":2.7},
{"b":"f11","x":0,"f":1.97},{"b":"f11","x":0.25,"f":2.4},{"b":"f11","x":0.5,"f":2.22},
{"b":"f12","x":0,"f":1.92},{"b":"f12","x":0.25,"f":2.05},{"b":"f12","x":0.5,"f":1.9},
{"b":"f13","x":0,"f":1.77},{"b":"f13","x":0.25,"f":1.75},{"b":"f13","x":0.5,"f":1.45},
{"b":"f14","x":0,"f":1.38},{"b":"f14","x":0.25,"f":1.3},{"b":"f14","x":0.5,"f":0.95},
{"b":"f15","x":0,"f":1.25},{"b":"f15","x":0.25,"f":1.0},{"b":"f15","x":0.5,"f":0.8},
{"b":"f16","x":0,"f":0.84},{"b":"f16","x":0.25,"f":0.8},{"b":"f16","x":0.5,"f":0.6}
]
},
"spacing": 4,
"hconcat": [
{
 "width": 1729, "height": 1421,
 "resolve": {"axis": {"x": "independent", "y": "independent"}},
 "layer": [
  {"data": {"name": "m"},
   "mark": {"type": "line", "color": "#ff0000", "strokeWidth": 6, "interpolate": "monotone", "clip": true},
   "encoding": {
    "x": {"field": "x", "type": "quantitative", "scale": {"domain": [0, 4.1463], "nice": false, "zero": false},
          "axis": {"orient": "bottom", "title": null, "labelPadding": 37, "values": [0, 1, 1.7071, 2.4142, 3.2802, 4.1463],
                   "labelExpr": "datum.value < 0.5 ? 'Γ' : datum.value < 1.3 ? 'H' : datum.value < 2 ? 'N' : datum.value < 3 ? 'Γ' : datum.value < 3.7 ? 'P' : 'H'"}},
    "y": {"field": "f", "type": "quantitative", "scale": {"domain": [-1.85, 40.15], "nice": false, "zero": false},
          "axis": {"orient": "left", "title": "Frequency", "titlePadding": 18, "values": [0, 5, 10, 15, 20, 25, 30, 35, 40]}},
    "detail": {"field": "b"}
   }},
  {"data": {"name": "zm"},
   "mark": {"type": "rule", "color": "#0000ff", "strokeWidth": 2.4, "strokeDash": [2.4, 3.6]},
   "encoding": {
    "x": {"field": "x0", "type": "quantitative", "scale": {"domain": [0, 4.1463], "nice": false, "zero": false},
          "axis": {"orient": "top", "title": null, "labels": false, "values": [1, 1.7071, 2.4142, 3.2802]}},
    "x2": {"field": "x1"},
    "y": {"field": "y", "type": "quantitative", "scale": {"domain": [-1.85, 40.15], "nice": false, "zero": false},
          "axis": {"orient": "right", "title": null, "labels": false, "values": [0, 5, 10, 15, 20, 25, 30, 35, 40]}}
   }}
 ]
},
{
 "width": 207, "height": 1421,
 "resolve": {"axis": {"x": "independent", "y": "independent"}},
 "layer": [
  {"data": {"name": "s"},
   "mark": {"type": "line", "color": "#ff0000", "strokeWidth": 6, "interpolate": "monotone", "clip": true},
   "encoding": {
    "x": {"field": "x", "type": "quantitative", "scale": {"domain": [0, 0.5], "nice": false, "zero": false},
          "axis": {"orient": "bottom", "title": null, "labelPadding": 37, "values": [0, 0.5],
                   "labelExpr": "datum.value < 0.25 ? 'P' : 'N'"}},
    "y": {"field": "f", "type": "quantitative", "scale": {"domain": [-1.85, 40.15], "nice": false, "zero": false},
          "axis": {"orient": "left", "title": null, "labels": false, "values": [0, 5, 10, 15, 20, 25, 30, 35, 40]}},
    "detail": {"field": "b"}
   }},
  {"data": {"name": "zs"},
   "mark": {"type": "rule", "color": "#0000ff", "strokeWidth": 2.4, "strokeDash": [2.4, 3.6]},
   "encoding": {
    "x": {"field": "x0", "type": "quantitative", "scale": {"domain": [0, 0.5], "nice": false, "zero": false}, "axis": null},
    "x2": {"field": "x1"},
    "y": {"field": "y", "type": "quantitative", "scale": {"domain": [-1.85, 40.15], "nice": false, "zero": false},
          "axis": {"orient": "right", "title": null, "labels": false, "values": [0, 5, 10, 15, 20, 25, 30, 35, 40]}}
   }}
 ]
}
]
}
